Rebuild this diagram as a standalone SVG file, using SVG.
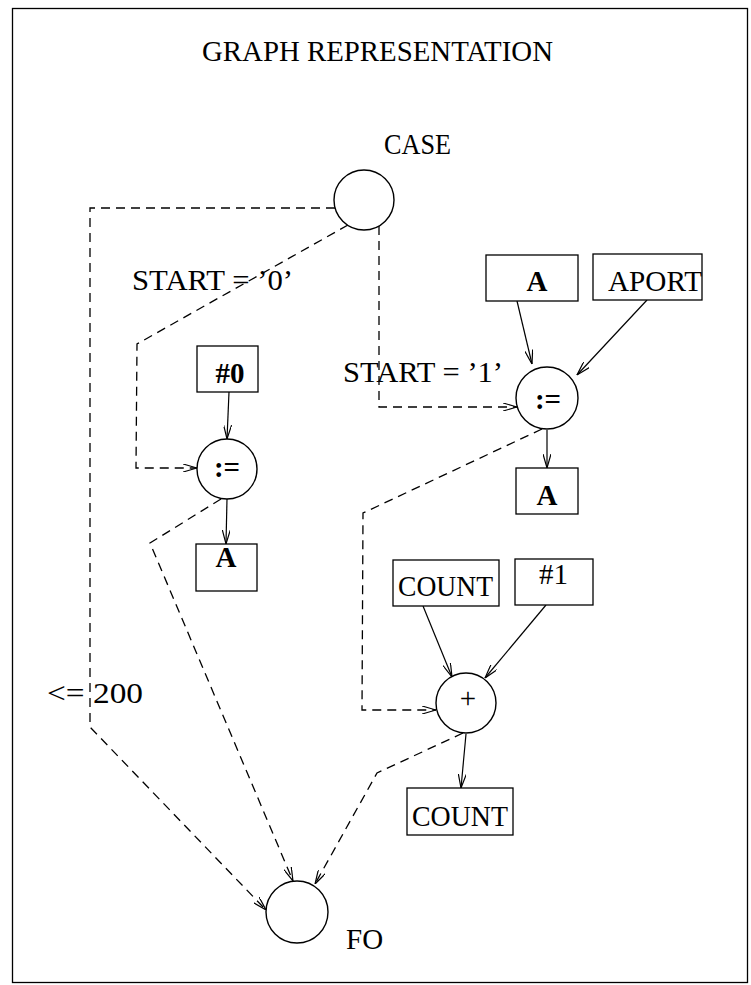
<svg xmlns="http://www.w3.org/2000/svg" width="751" height="985" viewBox="0 0 751 985">
<style>
.t{font-family:"Liberation Serif","Times New Roman",serif;font-size:29px;fill:#000}
.b{font-weight:bold}
.node{fill:#fff;stroke:#000;stroke-width:1.4}
.box{fill:#fff;stroke:#000;stroke-width:1.3}
.d{fill:none;stroke:#000;stroke-width:1.3;stroke-dasharray:9 6}
.s{fill:none;stroke:#000;stroke-width:1.2}
</style>
<defs>
<marker id="arr" viewBox="0 0 14 8" refX="14" refY="4" markerWidth="14" markerHeight="8" orient="auto" markerUnits="userSpaceOnUse">
<path d="M0,0 L14,4 L0,8" fill="none" stroke="#000" stroke-width="1.2" stroke-dasharray="none"/>
</marker>
</defs>
<rect width="751" height="985" fill="#fff"/>
<rect x="12.5" y="8.5" width="735" height="974" fill="none" stroke="#000" stroke-width="1.3"/>
<text class="t" x="202" y="61" textLength="351" lengthAdjust="spacingAndGlyphs">GRAPH REPRESENTATION</text>

<g id="connectors">
<path class="d" d="M335,208 L90,208 L90,727 L266,910" marker-end="url(#arr)"/>
<path class="d" d="M348,225 L137,344 L136,468 L197,468" marker-end="url(#arr)"/>
<path class="d" d="M379,226 L379,407 L517,407" marker-end="url(#arr)"/>
<path class="d" d="M221,499 L150,543 L293,881" marker-end="url(#arr)"/>
<path class="d" d="M542,429 L363,513 L362,710 L436,710" marker-end="url(#arr)"/>
<path class="d" d="M463,733 L377,773 L315,884" marker-end="url(#arr)"/>
<path class="s" d="M229,392 L227,439" marker-end="url(#arr)"/>
<path class="s" d="M227,499 L226,544" marker-end="url(#arr)"/>
<path class="s" d="M517,301 L532,364" marker-end="url(#arr)"/>
<path class="s" d="M647,300 L577,375" marker-end="url(#arr)"/>
<path class="s" d="M547,430 L547,468" marker-end="url(#arr)"/>
<path class="s" d="M423,606 L452,677" marker-end="url(#arr)"/>
<path class="s" d="M546,605 L485,678" marker-end="url(#arr)"/>
<path class="s" d="M466,734 L461,788" marker-end="url(#arr)"/>
<text class="t" x="132" y="290" textLength="161" lengthAdjust="spacingAndGlyphs">START = ’0’</text>
<text class="t" x="343" y="382" textLength="160" lengthAdjust="spacingAndGlyphs">START = ’1’</text>
<text class="t" x="47" y="703" textLength="96" lengthAdjust="spacingAndGlyphs">&lt;= 200</text>
</g>

<g id="case">
<circle class="node" cx="364" cy="200" r="30"/>
<text class="t" x="384" y="154" textLength="67" lengthAdjust="spacingAndGlyphs">CASE</text>
</g>
<g id="const0">
<rect class="box" x="197" y="346" width="61" height="46"/>
<text class="t b" x="230" y="383" text-anchor="middle">#0</text>
</g>
<g id="assign1">
<circle class="node" cx="227" cy="469" r="30"/>
<text class="t b" x="227" y="477" text-anchor="middle" font-size="30">:=</text>
</g>
<g id="a_out1">
<rect class="box" x="196" y="544" width="61" height="47"/>
<text class="t b" x="226" y="567" text-anchor="middle">A</text>
</g>
<g id="a_in">
<rect class="box" x="486" y="255" width="92" height="46"/>
<text class="t b" x="537" y="291" text-anchor="middle">A</text>
</g>
<g id="aport">
<rect class="box" x="593" y="254" width="109" height="46"/>
<text class="t" x="608" y="291" textLength="94" lengthAdjust="spacingAndGlyphs">APORT</text>
</g>
<g id="assign2">
<circle class="node" cx="547" cy="398" r="31"/>
<text class="t b" x="548" y="409" text-anchor="middle" font-size="30">:=</text>
</g>
<g id="a_out2">
<rect class="box" x="516" y="468" width="62" height="46"/>
<text class="t b" x="547" y="505" text-anchor="middle">A</text>
</g>
<g id="count_in">
<rect class="box" x="393" y="560" width="106" height="46"/>
<text class="t" x="398" y="596" textLength="95" lengthAdjust="spacingAndGlyphs">COUNT</text>
</g>
<g id="const1">
<rect class="box" x="515" y="559" width="78" height="46"/>
<text class="t" x="539" y="584">#1</text>
</g>
<g id="plus">
<circle class="node" cx="466" cy="703" r="30"/>
<text class="t" x="468" y="708" text-anchor="middle" font-size="22">+</text>
</g>
<g id="count_out">
<rect class="box" x="407" y="788" width="106" height="47"/>
<text class="t" x="412" y="826" textLength="96" lengthAdjust="spacingAndGlyphs">COUNT</text>
</g>
<g id="fo">
<circle class="node" cx="297" cy="912" r="31"/>
<text class="t" x="346" y="949">FO</text>
</g>
</svg>
